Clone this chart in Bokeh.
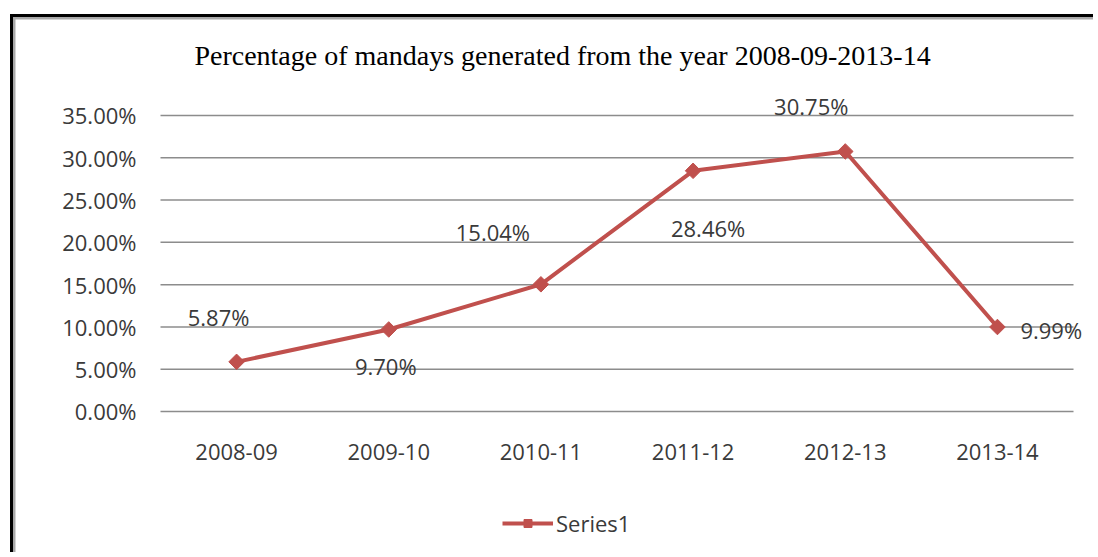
import math
from bokeh.plotting import figure
from bokeh.models import (ColumnDataSource, Range1d, FixedTicker, NumeralTickFormatter,
                          LabelSet, Label, Legend, LegendItem)
from bokeh.core.properties import value
from bokeh.embed import file_html
from bokeh.resources import INLINE

years = ["2008-09", "2009-10", "2010-11", "2011-12", "2012-13", "2013-14"]
percent = [5.87, 9.70, 15.04, 28.46, 30.75, 9.99]
series_name = "Series1"
title_text = "Percentage of mandays generated from the year 2008-09-2013-14"
y_ticks = [0.0, 0.05, 0.10, 0.15, 0.20, 0.25, 0.30, 0.35]

# label placement (pixels), style only
label_dx = [-18, -3, -48, 15, -34, 23]
label_dy = [45, -37, 52, -57, 45, -3]
label_align = ["center", "center", "center", "center", "center", "left"]

RED = "#C0504D"
TXT = "#3a3a3a"
FONT = "Open Sans"
FS = "22px"

xpos = [i + 0.5 for i in range(len(years))]
src = ColumnDataSource(dict(
    x=xpos,
    y=[v / 100 for v in percent],
    lab=["%.2f%%" % v for v in percent],
    dx=label_dx, dy=label_dy, al=label_align,
))

p = figure(width=1083, height=538,
           x_range=Range1d(-0.95288, 6.1642), y_range=Range1d(-0.17264, 0.46351),
           output_backend="svg", toolbar_location=None, min_border=0)
p.styles = {"margin-left": "10px", "margin-top": "14px",
            "border-left": "3px solid black", "border-top": "3px solid black",
            "padding-left": "2px", "padding-top": "2px", "background-color": "#a8a8a8"}
p.outline_line_color = None
p.background_fill_color = "white"
p.border_fill_color = "white"
p.grid.grid_line_color = None

# horizontal gridlines at the y ticks, spanning the category area
p.segment(x0=0, x1=len(years), y0=y_ticks, y1=y_ticks, line_color="#8c8c8c", line_width=1.5)

p.yaxis.ticker = FixedTicker(ticks=y_ticks)
p.yaxis.formatter = NumeralTickFormatter(format="0.00%")
p.yaxis.fixed_location = 0
p.xaxis.ticker = FixedTicker(ticks=xpos)
p.xaxis.major_label_overrides = {x: y for x, y in zip(xpos, years)}
p.xaxis.fixed_location = 0
for ax in (p.xaxis[0], p.yaxis[0]):
    ax.axis_line_color = None
    ax.major_tick_line_color = None
    ax.minor_tick_line_color = None
    ax.major_label_text_font = FONT
    ax.major_label_text_font_size = FS
    ax.major_label_text_color = TXT
p.yaxis.major_label_standoff = 18
p.xaxis.major_label_standoff = 27

ln = p.line("x", "y", source=src, line_color=RED, line_width=4)
mk = p.scatter("x", "y", source=src, marker="square", angle=math.pi / 4, size=11,
               fill_color=RED, line_color=RED)

labels = LabelSet(x="x", y="y", text="lab", source=src, x_offset="dx", y_offset="dy",
                  text_align="al", text_baseline="middle", text_font=value(FONT),
                  text_font_size=FS, text_color=TXT)
p.add_layout(labels)

p.add_layout(Label(x=2.642, y=0.42095, text=title_text, text_align="center",
                   text_baseline="alphabetic", text_font="Liberation Serif",
                   text_font_size="28px", text_color="black"))

legend = Legend(items=[LegendItem(label=series_name, renderers=[ln, mk])],
                location=(487, 19), orientation="horizontal",
                label_text_font=FONT, label_text_font_size=FS, label_text_color=TXT,
                glyph_width=51, label_standoff=3, border_line_color=None,
                background_fill_alpha=0, padding=0, margin=0)
p.add_layout(legend, "center")

open("out.html", "w").write(file_html(p, INLINE))
